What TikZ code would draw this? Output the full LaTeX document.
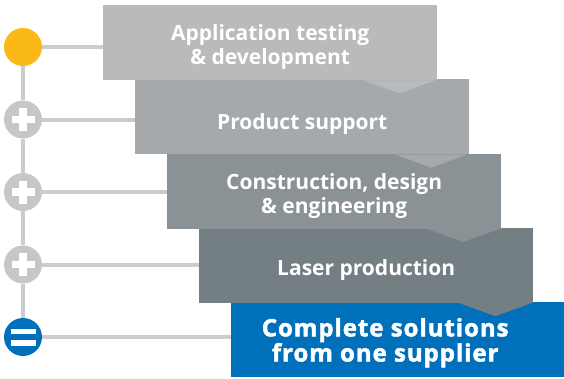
\documentclass[tikz,border=0pt]{standalone}
\usepackage{fontspec}
\setmainfont{Open Sans}
\definecolor{stagea}{HTML}{B9BABC}
\definecolor{stageb}{HTML}{A5A9AC}
\definecolor{stagec}{HTML}{8B9295}
\definecolor{staged}{HTML}{737F83}
\definecolor{stagee}{HTML}{0070BA}
\definecolor{linegray}{HTML}{CCCCCC}
\definecolor{dotgray}{HTML}{C6C7C8}
\definecolor{dotyellow}{HTML}{FBB918}
\tikzset{
  stage/.style={fill=#1, minimum width=334pt, minimum height=75pt,
    inner sep=0pt, anchor=north west},
  caption/.style={text=white, align=center, inner sep=0pt,
    font=\bfseries\fontsize{21}{24}\selectfont},
  result/.style={xshift=-13pt,
    font=\bfseries\fontsize{24}{23.5}\selectfont\addfontfeatures{FakeBold=2,LetterSpace=4}},
  link/.style={draw=linegray, line width=4pt},
  dot/.style={circle, minimum size=38pt, inner sep=0pt, fill=#1},
}
\begin{document}
\begin{tikzpicture}[x=1pt,y=-1pt]
    \useasboundingbox (0,0) rectangle (564,378);
    % stages, last one first so the notches lie on top
    \foreach \n/\x/\y/\col/\dy/\txt in {
        5/231/302/stagee/3/{Complete solutions\\from one supplier},
        4/199/227.75/staged/5/{Laser production},
        3/167/153.5/stagec/5/{Construction, design\\\& engineering},
        2/135/79.25/stageb/7.5/{Product support},
        1/103/5/stagea/4.5/{Application testing\\\& development}}{
        \node[stage=\col] (b\n) at (\x,\y) {};
        \ifnum\n=5
            \node[caption, result] (t\n) at ([yshift=-\dy]b\n.center) {\txt};
        \else
            \fill[\col] ([xshift=-74pt]b\n.south east) -- ([xshift=-38pt,yshift=-13pt]b\n.south east)
                -- ([xshift=-2pt]b\n.south east) -- cycle;
            \node[caption] (t\n) at ([yshift=-\dy]b\n.center) {\txt};
        \fi
    }
    % circles on the left
    \node[dot=dotyellow] (c1) at (23,47) {};
    \node[dot=dotgray] (c2) at (23,119.5) {};
    \node[dot=dotgray] (c3) at (23,192) {};
    \node[dot=dotgray] (c4) at (23,264.5) {};
    \node[dot=stagee] (c5) at (23,337) {};
    \foreach \a/\b in {1/2,2/3,3/4,4/5}
        \draw[link] (c\a) -- (c\b);
    \foreach \n in {1,...,5}
        \draw[link] (c\n) -- (c\n -| b\n.west);
    % plus signs
    \foreach \n in {2,3,4}{
        \draw[white, line width=7.5pt] ([xshift=-11.5pt]c\n.center) -- ([xshift=11.5pt]c\n.center);
        \draw[white, line width=7.5pt] ([yshift=-11.5pt]c\n.center) -- ([yshift=11.5pt]c\n.center);
    }
    % equals sign
    \fill[white] ([xshift=-12.5pt,yshift=3pt]c5.center) rectangle ([xshift=12.5pt,yshift=8.5pt]c5.center);
    \fill[white] ([xshift=-12.5pt,yshift=-3pt]c5.center) rectangle ([xshift=12.5pt,yshift=-8.5pt]c5.center);
\end{tikzpicture}
\end{document}
